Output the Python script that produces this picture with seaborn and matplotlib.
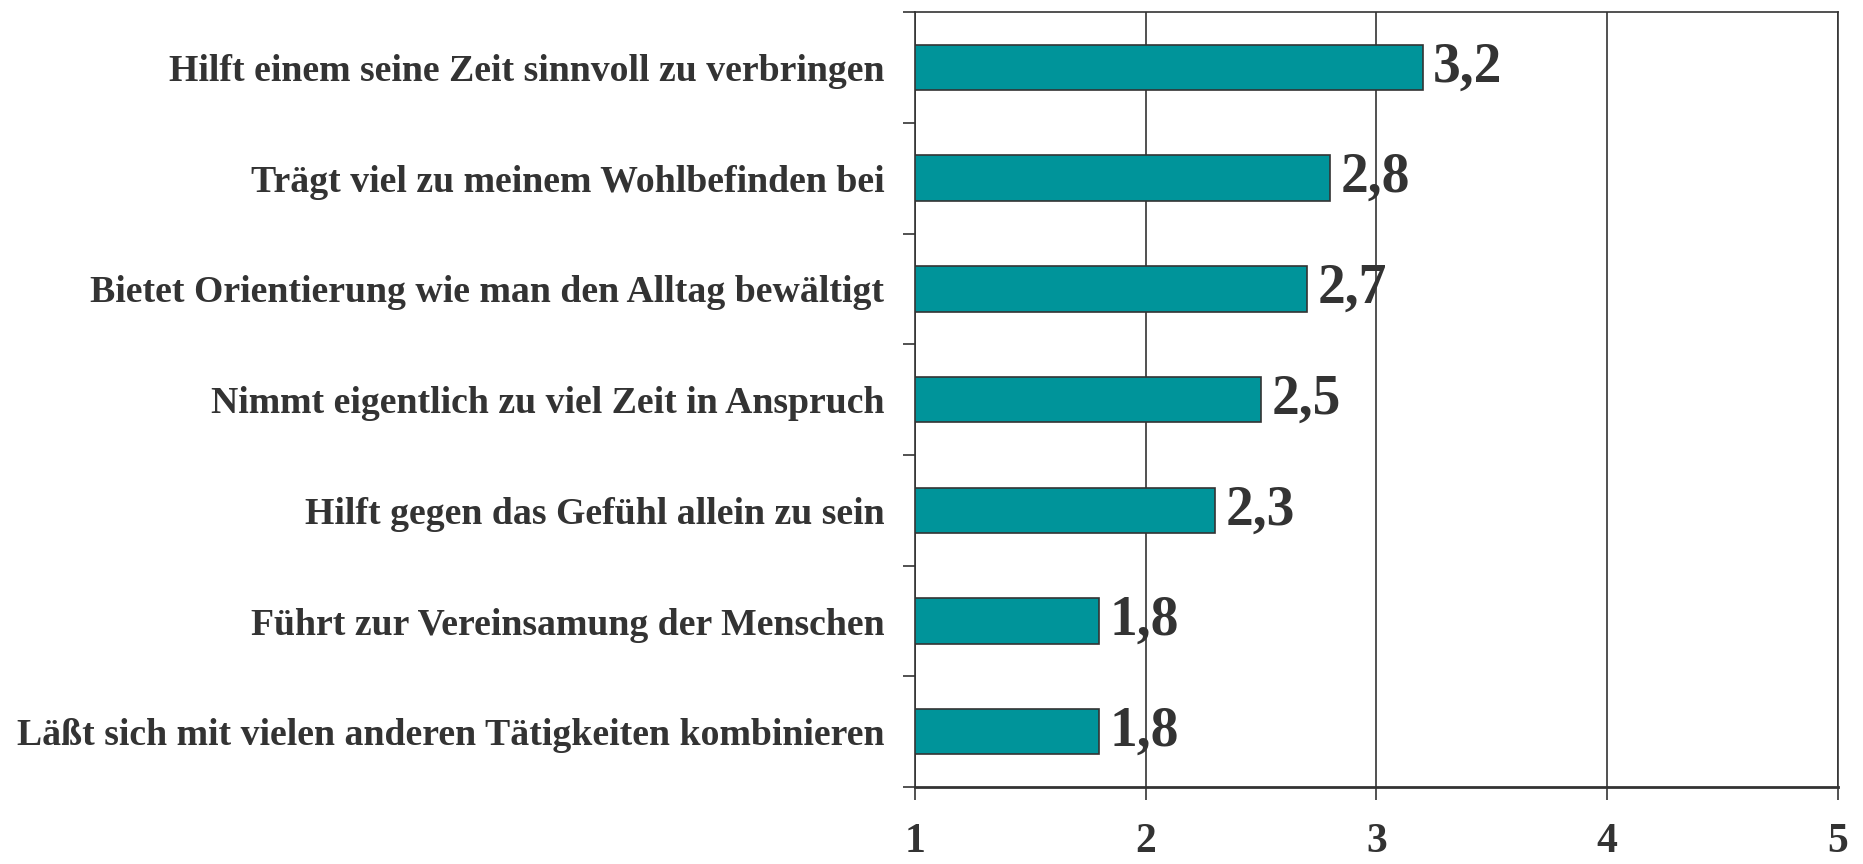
import numpy as np
import pandas as pd
import matplotlib
matplotlib.use("Agg")
import matplotlib.pyplot as plt
import seaborn as sns

# statements (top to bottom) and mean ratings
statements = [
    "Hilft einem seine Zeit sinnvoll zu verbringen",
    "Trägt viel zu meinem Wohlbefinden bei",
    "Bietet Orientierung wie man den Alltag bewältigt",
    "Nimmt eigentlich zu viel Zeit in Anspruch",
    "Hilft gegen das Gefühl allein zu sein",
    "Führt zur Vereinsamung der Menschen",
    "Läßt sich mit vielen anderen Tätigkeiten kombinieren",
]
ratings = [3.2, 2.8, 2.7, 2.5, 2.3, 1.8, 1.8]
xticks = [1, 2, 3, 4, 5]

df = pd.DataFrame({"statement": statements, "rating": ratings})

sns.set_style("white")
plt.rcParams["font.family"] = ["Liberation Serif", "DejaVu Serif"]
plt.rcParams["font.weight"] = "bold"

ink = "#333333"
teal = "#00949a"

fig = plt.figure(figsize=(18.63, 8.64), dpi=100)
ax = fig.add_axes([0.491, 0.089, 0.4956, 0.897])

sns.barplot(data=df, x="rating", y="statement", order=statements, orient="h",
            color=teal, width=0.41, edgecolor=ink, linewidth=1.2,
            saturation=1, ax=ax)

ax.set_xlim(1, 5)
ax.set_ylim(6.5, -0.5)
ax.set_xticks(xticks)
ax.set_xticklabels([str(t) for t in xticks], fontsize=30, fontweight="bold", color=ink)
ax.set_yticks(range(len(statements)))
ax.set_yticklabels(statements, fontsize=27.2, fontweight="bold", color=ink)
ax.set_yticks(np.arange(-0.5, len(statements)), minor=True)
ax.tick_params(axis="y", which="major", length=0, pad=22)
ax.tick_params(axis="y", which="minor", length=9, width=1.2, color=ink, direction="out", left=True)
ax.tick_params(axis="x", which="major", length=9, width=1.2, color=ink, direction="out",
               bottom=True, pad=17)
ax.set_xlabel("")
ax.set_ylabel("")

ax.grid(axis="x", color=ink, linewidth=1.2)
ax.grid(axis="y", visible=False)
ax.set_axisbelow(True)
for side, sp in ax.spines.items():
    sp.set_visible(True)
    sp.set_color(ink)
    sp.set_linewidth(1.2)
ax.spines["bottom"].set_linewidth(2)

for i, v in enumerate(ratings):
    ax.text(v + 0.045, i, f"{v:.1f}".replace(".", ","), va="center", ha="left",
            fontsize=40, fontweight="bold", color=ink)

fig.savefig("out.png", dpi=100)
